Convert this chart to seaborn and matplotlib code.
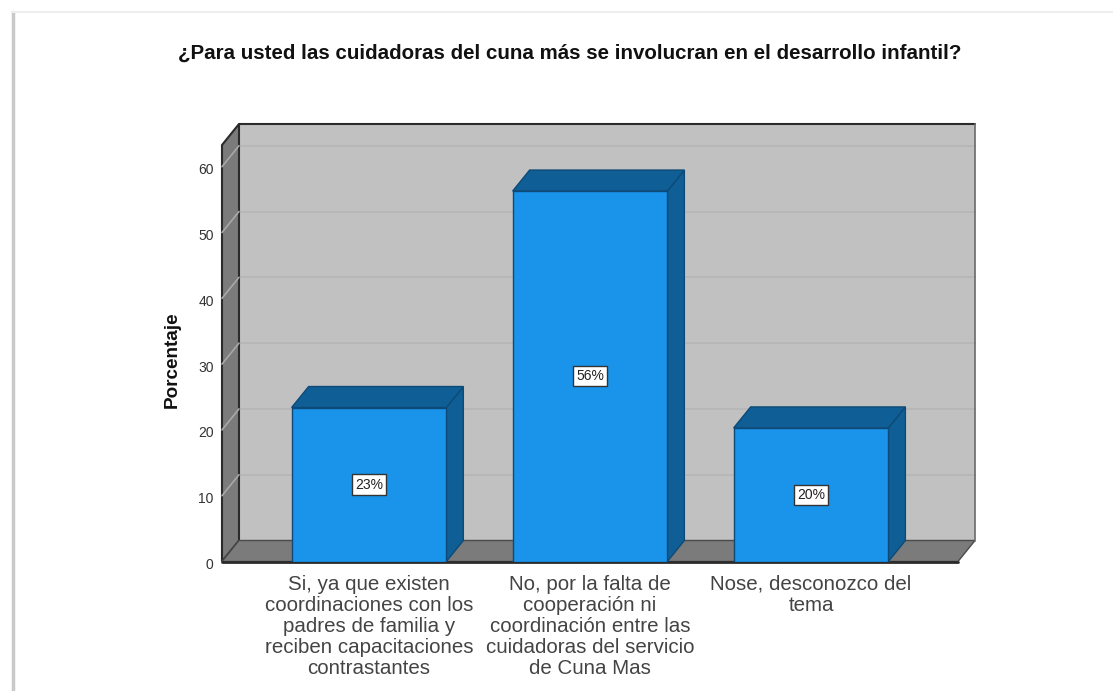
import pandas as pd
import matplotlib
matplotlib.use('Agg')
import matplotlib.pyplot as plt
import seaborn as sns
from matplotlib.lines import Line2D
from matplotlib.patches import Polygon, Rectangle
from matplotlib.transforms import ScaledTranslation

# Values
categories = [
    'Si, ya que existen\ncoordinaciones con los\npadres de familia y\nreciben capacitaciones\ncontrastantes',
    'No, por la falta de\ncooperación ni\ncoordinación entre las\ncuidadoras del servicio\nde Cuna Mas',
    'Nose, desconozco del\ntema',
]
percent = [23.4, 56.3, 20.3]
bar_labels = ['23%', '56%', '20%']
y_ticks = [0, 10, 20, 30, 40, 50, 60]

title = '¿Para usted las cuidadoras del cuna más se involucran en el desarrollo infantil?'

FRONT = '#1a94ea'
DARK = '#0f5f96'
EDGE = '#0d4a78'
WALL = '#c1c1c1'
SIDE = '#7b7b7b'
LINE = '#2b2b2b'

sns.set_style('white')
plt.rcParams['font.family'] = ['Liberation Sans', 'DejaVu Sans']

fig = plt.figure(figsize=(11.13, 6.91), dpi=100)
W, H = 1113, 691
ax = fig.add_axes([222 / W, (H - 561.5) / H, 736 / W, 416.5 / H])

df = pd.DataFrame({'category': categories, 'percent': percent})
sns.barplot(data=df, x='category', y='percent', color=FRONT, saturation=1, width=0.7,
            edgecolor=EDGE, linewidth=1, zorder=5, ax=ax)

xmin, xmax = 1 - 1.665, 1 + 1.665
ymax = 63.3
ax.set_xlim(xmin, xmax)
ax.set_ylim(0, ymax)
# depth of the fake 3d box, in data units
dx = 17 / 221
dy = 21 / 6.58

ax.patch.set_visible(False)
sns.despine(ax=ax, left=True, bottom=True, top=True, right=True)

# walls and floor
ax.add_patch(Rectangle((xmin + dx, dy), xmax - xmin, ymax, fc=WALL, ec='none', zorder=1, clip_on=False))
ax.add_patch(Polygon([(xmin, 0), (xmin + dx, dy), (xmin + dx, ymax + dy), (xmin, ymax)],
                     fc=SIDE, ec=LINE, lw=1.5, zorder=2, clip_on=False))
ax.add_patch(Polygon([(xmin, 0), (xmax, 0), (xmax + dx, dy), (xmin + dx, dy)],
                     fc=SIDE, ec='#4a4a4a', lw=1, zorder=2, clip_on=False))
ax.plot([xmin + dx, xmax + dx], [ymax + dy, ymax + dy], color=LINE, lw=1.5, zorder=3, clip_on=False)
ax.plot([xmax + dx, xmax + dx], [dy, ymax + dy], color='#6a6a6a', lw=1.2, zorder=3, clip_on=False)
for t in y_ticks[1:]:
    ax.plot([xmin + dx, xmax + dx], [t + dy, t + dy], color='#b5b5b5', lw=1.2, zorder=1.5, clip_on=False)
    ax.plot([xmin, xmin + dx], [t, t + dy], color='#a8a8a8', lw=1.2, zorder=2.5, clip_on=False)
ax.plot([xmin, xmax], [0, 0], color=LINE, lw=2, zorder=4, clip_on=False)

# sides and tops of the bars
for bar in ax.patches[:3]:
    x0, x1 = bar.get_x(), bar.get_x() + bar.get_width()
    h = bar.get_height()
    ax.add_patch(Polygon([(x1, 0), (x1 + dx, dy), (x1 + dx, h + dy), (x1, h)],
                         fc=DARK, ec=EDGE, lw=1, zorder=4.5, clip_on=False))
    ax.add_patch(Polygon([(x0, h), (x0 + dx, h + dy), (x1 + dx, h + dy), (x1, h)],
                         fc=DARK, ec=EDGE, lw=1, zorder=4.5, clip_on=False))

ax.bar_label(ax.containers[0], labels=bar_labels, label_type='center', fontsize=10, color='#222222', zorder=7,
             bbox=dict(boxstyle='square,pad=0.22', fc='white', ec='#333333', lw=1))

ax.set_yticks(y_ticks)
ax.tick_params(axis='y', length=0, pad=6, labelsize=10, labelcolor='#333333')
ax.tick_params(axis='x', length=0, pad=9.5, labelsize=14.8, labelcolor='#444444')
for lab in ax.get_yticklabels():
    lab.set_transform(lab.get_transform() + ScaledTranslation(0, -2 / 100, fig.dpi_scale_trans))
for lab in ax.get_xticklabels():
    lab.set_linespacing(1.14)
ax.set_xlabel('')
ax.set_ylabel('')

fig.text(172 / W, 1 - 360 / H, 'Porcentaje', rotation=90, ha='center', va='center',
         fontsize=13.6, fontweight='bold', color='#111111')
fig.text(570 / W, 1 - 53 / H, title, ha='center', va='center', fontsize=14.75, fontweight='bold', color='#111111')

# page edge behind the chart
fig.add_artist(Line2D([13 / W, 13 / W], [0, 1 - 12 / H], color='#c9c9c9', lw=2.5))
fig.add_artist(Line2D([12 / W, 1], [1 - 12 / H, 1 - 12 / H], color='#eeeeee', lw=1.5))

fig.savefig('out.png', dpi=100)
